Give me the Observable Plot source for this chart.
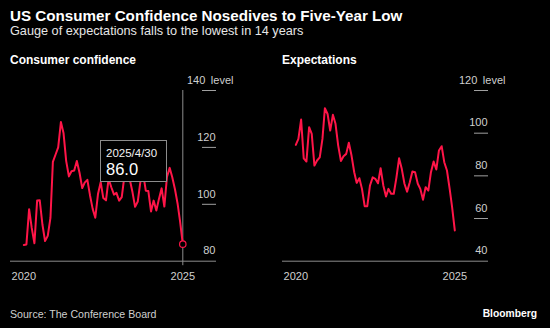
<!DOCTYPE html>
<html>
<head>
<meta charset="utf-8">
<script src="https://cdn.jsdelivr.net/npm/d3@7"></script>
<script src="https://cdn.jsdelivr.net/npm/@observablehq/plot@0.6"></script>
<style>
  html, body { margin: 0; padding: 0; background: #000; }
  body { width: 550px; height: 328px; position: relative; overflow: hidden; font-family: "Liberation Sans", Arial, sans-serif; color: #fff; }
  .t { position: absolute; white-space: nowrap; line-height: 1; }
  #title { left: 10px; top: 8px; font-size: 15.2px; font-weight: bold; }
  #subtitle { left: 10px; top: 24.8px; font-size: 12.7px; color: #e6e6e6; }
  .ptitle { top: 54px; font-size: 12px; font-weight: bold; }
  #source { left: 10px; top: 309px; font-size: 10.6px; color: #cfcfcf; }
  #brand { right: 13px; top: 309px; font-size: 10.3px; font-weight: bold; }
  .panel { position: absolute; top: 70px; }
  #tip { position: absolute; box-sizing: border-box; width: 67px; height: 42px; border: 1px solid #8c8c8c; background: #000; }
  #tip .d { position: absolute; left: 5.5px; top: 7px; font-size: 11.5px; color: #f2f2f2; line-height: 1; }
  #tip .v { position: absolute; left: 5.5px; top: 20px; font-size: 16.5px; color: #fff; line-height: 1; }
</style>
</head>
<body>
<div class="t" id="title">US Consumer Confidence Nosedives to Five-Year Low</div>
<div class="t" id="subtitle">Gauge of expectations falls to the lowest in 14 years</div>
<div class="t ptitle" style="left:10px">Consumer confidence</div>
<div class="t ptitle" style="left:282px">Expectations</div>
<div class="t" id="source">Source: The Conference Board</div>
<div class="t" id="brand">Bloomberg</div>
<script>
// ---- data (monthly, Apr 2020 – Apr 2025) ----
const firstMonth = new Date(Date.UTC(2020, 3, 1));
const endMonth = new Date(Date.UTC(2025, 4, 1));
const months = d3.utcMonth.range(firstMonth, endMonth);

const confidence = [
  85.7, 85.9, 98.3, 91.7, 86.3, 101.3, 101.4, 92.9, 87.1,
  88.9, 95.2, 114.9, 117.5, 120.0, 128.9, 125.1, 115.2, 109.8, 111.6, 111.9, 115.2,
  111.1, 105.7, 107.6, 108.6, 103.2, 98.4, 95.3, 103.6, 107.8, 102.2, 101.4, 109.0,
  106.0, 103.4, 104.0, 101.3, 102.5, 110.1, 114.0, 108.7, 104.3, 99.1, 101.0, 108.0,
  110.9, 104.8, 104.7, 97.5, 101.3, 97.8, 101.9, 105.6, 99.2, 109.6, 112.8, 109.5,
  105.3, 100.1, 93.9, 86.0
];

const expectations = [
  94.5, 97.3, 106.4, 88.2, 86.7, 102.8, 99.7, 84.8, 87.2,
  88.7, 97.3, 111.7, 109.0, 101.2, 108.6, 104.4, 94.2, 87.0, 89.2, 90.3, 95.5,
  89.5, 81.7, 76.7, 78.9, 73.9, 65.8, 65.8, 75.5, 79.3, 78.6, 76.5, 83.6,
  75.5, 70.3, 73.9, 71.6, 71.6, 79.3, 88.2, 83.3, 76.3, 72.6, 77.0, 82.0,
  81.7, 76.3, 73.9, 68.8, 74.7, 73.1, 81.7, 86.7, 83.0, 91.9, 93.9, 86.4,
  82.5, 73.9, 65.3, 54.4
];

const xTickLabels = ["2020", "2025"];
const xTickDates = [months[0], months[months.length - 1]];
const confTicks = [80, 100, 120, 140];
const expTicks = [40, 60, 80, 100, 120];
const unitLabel = "level";
const tipDate = "2025/4/30";

const RED = "#ff1548";
const GREY = "#8c8c8c";
const LABEL = "#cfcfcf";

function panel(values, ticks, withTip) {
  const data = months.map((d, i) => ({date: d, value: values[i]}));
  const last = data[data.length - 1];
  const lo = ticks[0], hi = ticks[ticks.length - 1];
  const marks = [
    Plot.ruleY([lo], {stroke: GREY, strokeWidth: 1}),
    Plot.tickY(ticks.slice(1), {y: d => d, stroke: "#a0a0a0", strokeWidth: 1, insetLeft: 192}),
    Plot.axisY(ticks.slice(0, -1), {anchor: "right", tickSize: 0, tickPadding: 0, textAnchor: "end", dx: -1, dy: -10.3, fill: LABEL, fontSize: 11, label: null}),
    Plot.text([hi], {y: d => d, text: d => `${d}\u2002${unitLabel}`, frameAnchor: "right", textAnchor: "start", dx: -29.5, dy: -10.3, fill: LABEL, fontSize: 11}),
    Plot.axisX(xTickDates, {tickSize: 0, tickPadding: 11, fill: LABEL, fontSize: 11, label: null,
      tickFormat: d => xTickLabels[xTickDates.findIndex(t => +t === +d)]}),
  ];
  if (withTip) marks.push(Plot.ruleX([last], {x: "date", y1: hi, y2: lo, insetBottom: -4.5, stroke: GREY, strokeWidth: 1}));
  marks.push(Plot.line(data, {x: "date", y: "value", stroke: RED, strokeWidth: 2, strokeLinejoin: "round"}));
  if (withTip) marks.push(Plot.dot([last], {x: "date", y: "value", r: 3.2, stroke: RED, fill: "#000", strokeWidth: 1.2}));
  const plot = Plot.plot({
    width: 250,
    height: 215,
    marginLeft: 10,
    marginRight: 34,
    marginTop: 20,
    marginBottom: 24.3,
    style: {background: "transparent", color: LABEL, fontFamily: "'Liberation Sans', Arial, sans-serif", fontSize: "11px", overflow: "visible"},
    x: {type: "utc", domain: [months[0], months[months.length - 1]], insetLeft: 13.3, insetRight: 33.7},
    y: {domain: [lo, hi]},
    marks
  });
  return {plot, last};
}

const p1 = panel(confidence, confTicks, true);
const w1 = document.createElement("div");
w1.className = "panel"; w1.style.left = "0px";
w1.appendChild(p1.plot);
document.body.appendChild(w1);

const p2 = panel(expectations, expTicks, false);
const w2 = document.createElement("div");
w2.className = "panel"; w2.style.left = "272px";
w2.appendChild(p2.plot);
document.body.appendChild(w2);

// tooltip anchored to the last point of the first panel
const px = p1.plot.scale("x").apply(p1.last.date);
const py = p1.plot.scale("y").apply(p1.last.value);
const tip = document.createElement("div");
tip.id = "tip";
tip.style.left = (px - 82.8) + "px";
tip.style.top = (70 + py - 103.4) + "px";
tip.innerHTML = `<div class="d">${tipDate}</div><div class="v">${p1.last.value.toFixed(1)}</div>`;
document.body.appendChild(tip);
</script>
</body>
</html>
